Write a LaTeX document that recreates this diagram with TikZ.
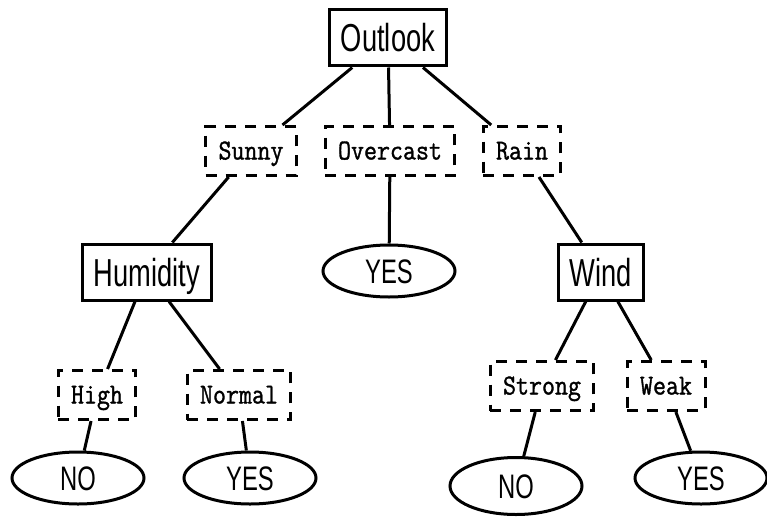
\documentclass[tikz,border=0pt]{standalone}
\usepackage{fontspec}
\newfontfamily\attrfont[FakeStretch=0.7]{Liberation Sans}
\newfontfamily\valuefont[FakeStretch=0.87, FakeBold=1.2]{Latin Modern Mono}
\usetikzlibrary{shapes.geometric}

\begin{document}
\begin{tikzpicture}[x=1pt, y=-1pt,
		attribute/.style={draw, line width=3pt, inner xsep=11pt, inner ysep=0pt,
			minimum height=56pt, text height=28pt, text depth=0pt,
			font=\attrfont\fontsize{39}{39}\selectfont},
		branch/.style={draw, line width=3pt, dash pattern=on 11pt off 9pt,
			inner xsep=13pt, inner ysep=0pt, minimum height=49pt,
			text height=17pt, text depth=0pt,
			font=\valuefont\fontsize{29}{29}\selectfont},
		leaf/.style={draw, ellipse, line width=3pt, inner sep=0pt,
			minimum width=132pt, minimum height=52pt, text height=24pt, text depth=0pt,
			font=\attrfont\fontsize{34}{34}\selectfont},
		link/.style={line width=3pt},
	]
		\useasboundingbox (0,0) rectangle (767,516);
		
		\node[attribute] (outlook) at (388,38) {Outlook};
		\node[branch] (sunny) at (251,151) {Sunny};
		\node[branch] (overcast) at (390,151) {Overcast};
		\node[branch] (rain) at (522,151) {Rain};
		
		\node[attribute] (humidity) at (147,272) {Humidity};
		\node[leaf] (yesmid) at (389,271) {YES};
		\node[attribute] (wind) at (601,272) {Wind};
		
		\node[branch] (high) at (97,395) {High};
		\node[branch] (normal) at (239,395) {Normal};
		\node[branch] (strong) at (542,386) {Strong};
		\node[branch] (weak) at (666,386) {Weak};
		
		\node[leaf] (nohigh) at (78,478) {NO};
		\node[leaf] (yesnormal) at (250,478) {YES};
		\node[leaf, minimum height=57pt] (nostrong) at (516,486) {NO};
		\node[leaf] (yesweak) at (701,478) {YES};
		
		\draw[link] (outlook) -- (sunny);
		\draw[link] (outlook) -- (overcast);
		\draw[link] (outlook) -- (rain);
		\draw[link] (sunny) -- (humidity);
		\draw[link] (overcast) -- (yesmid);
		\draw[link] (rain) -- (wind);
		\draw[link] (humidity) -- (high);
		\draw[link] (humidity) -- (normal);
		\draw[link] (wind) -- (strong);
		\draw[link] (wind) -- (weak);
		\draw[link] (high) -- (nohigh);
		\draw[link] (normal) -- (yesnormal);
		\draw[link] (strong) -- (nostrong);
		\draw[link] (weak) -- (yesweak);
	\end{tikzpicture}
\end{document}
